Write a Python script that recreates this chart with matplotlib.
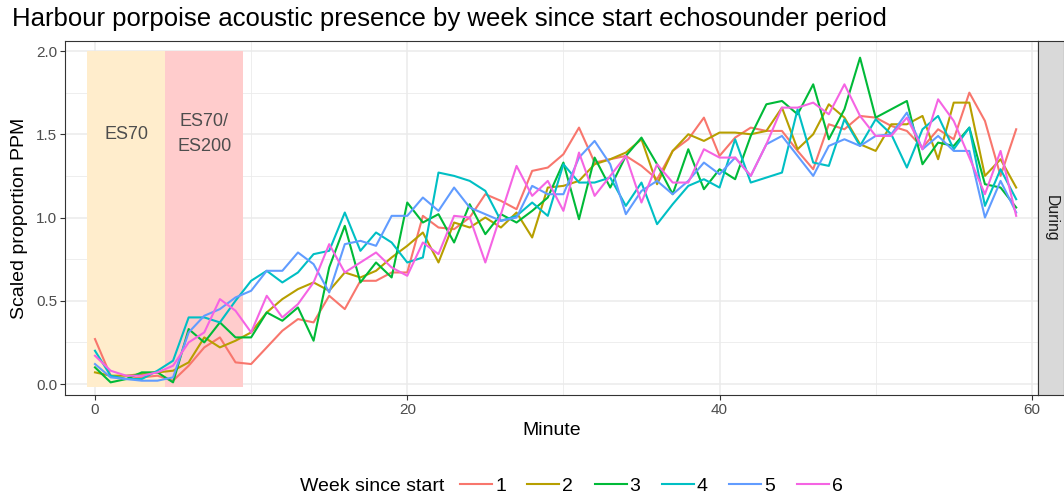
import matplotlib
matplotlib.use("Agg")
import matplotlib.pyplot as plt
from matplotlib.lines import Line2D
from matplotlib.ticker import MultipleLocator, FormatStrFormatter
import numpy as np

plt.rcParams["font.family"] = ["Liberation Sans", "DejaVu Sans"]

# ---- data: scaled proportion of porpoise-positive minutes, per week ---------
minutes = np.arange(60)
weeks = ["1", "2", "3", "4", "5", "6"]
week_colors = ["#F8766D", "#B79F00", "#00BA38", "#00BFC4", "#619CFF", "#F564E3"]

week1 = [0.27, 0.05, 0.03, 0.04, 0.05, 0.02, 0.11, 0.22, 0.28, 0.13,
         0.12, 0.22, 0.32, 0.39, 0.37, 0.53, 0.45, 0.62, 0.62, 0.67,
         0.67, 1.01, 0.94, 0.93, 1.00, 1.14, 1.10, 1.05, 1.28, 1.30,
         1.38, 1.54, 1.33, 1.35, 1.37, 1.31, 1.23, 1.40, 1.47, 1.60,
         1.37, 1.48, 1.54, 1.52, 1.52, 1.40, 1.29, 1.56, 1.53, 1.61,
         1.60, 1.55, 1.52, 1.42, 1.53, 1.47, 1.75, 1.58, 1.25, 1.53]
week2 = [0.07, 0.05, 0.05, 0.06, 0.07, 0.08, 0.13, 0.28, 0.22, 0.26,
         0.31, 0.43, 0.51, 0.57, 0.61, 0.56, 0.67, 0.64, 0.68, 0.76,
         0.83, 0.91, 0.73, 0.97, 0.94, 1.00, 0.94, 1.03, 0.88, 1.18,
         1.19, 1.22, 1.32, 1.35, 1.39, 1.47, 1.20, 1.40, 1.50, 1.46,
         1.51, 1.51, 1.50, 1.52, 1.66, 1.41, 1.50, 1.68, 1.60, 1.44,
         1.40, 1.56, 1.56, 1.61, 1.35, 1.69, 1.69, 1.25, 1.35, 1.18]
week3 = [0.10, 0.01, 0.03, 0.07, 0.07, 0.01, 0.33, 0.25, 0.37, 0.28,
         0.28, 0.43, 0.38, 0.46, 0.26, 0.70, 0.95, 0.61, 0.73, 0.64,
         1.09, 0.97, 1.02, 0.85, 1.08, 0.90, 1.02, 0.97, 1.04, 1.12,
         1.33, 0.99, 1.36, 1.18, 1.37, 1.48, 1.32, 1.14, 1.41, 1.17,
         1.29, 1.23, 1.49, 1.68, 1.70, 1.62, 1.80, 1.47, 1.65, 1.96,
         1.60, 1.65, 1.70, 1.32, 1.45, 1.43, 1.54, 1.20, 1.18, 1.06]
week4 = [0.20, 0.05, 0.03, 0.03, 0.08, 0.14, 0.40, 0.40, 0.37, 0.50,
         0.62, 0.68, 0.61, 0.67, 0.78, 0.80, 1.03, 0.80, 0.91, 0.85,
         0.73, 0.76, 1.27, 1.25, 1.22, 1.16, 0.98, 1.01, 1.09, 1.01,
         1.32, 1.21, 1.21, 1.24, 1.07, 1.21, 0.96, 1.08, 1.19, 1.23,
         1.18, 1.47, 1.21, 1.24, 1.27, 1.65, 1.33, 1.31, 1.59, 1.43,
         1.59, 1.50, 1.30, 1.53, 1.61, 1.41, 1.54, 1.07, 1.29, 1.11]
week5 = [0.12, 0.04, 0.03, 0.02, 0.02, 0.04, 0.31, 0.41, 0.45, 0.52,
         0.56, 0.68, 0.68, 0.79, 0.72, 0.55, 0.84, 0.86, 0.83, 1.01,
         1.01, 1.12, 1.04, 1.18, 1.06, 1.02, 0.98, 1.00, 1.19, 1.14,
         1.14, 1.36, 1.46, 1.32, 1.02, 1.16, 1.22, 1.14, 1.22, 1.33,
         1.26, 1.36, 1.25, 1.44, 1.49, 1.37, 1.25, 1.43, 1.47, 1.43,
         1.49, 1.50, 1.63, 1.41, 1.49, 1.40, 1.40, 1.00, 1.22, 1.03]
week6 = [0.17, 0.08, 0.05, 0.05, 0.07, 0.11, 0.25, 0.31, 0.51, 0.44,
         0.31, 0.53, 0.40, 0.48, 0.61, 0.84, 0.67, 0.73, 0.79, 0.70,
         0.65, 0.85, 0.78, 1.01, 1.00, 0.73, 1.02, 1.31, 1.13, 1.22,
         1.04, 1.39, 1.13, 1.25, 1.37, 1.09, 1.32, 1.21, 1.21, 1.41,
         1.36, 1.36, 1.25, 1.44, 1.66, 1.66, 1.69, 1.62, 1.80, 1.61,
         1.49, 1.49, 1.60, 1.41, 1.71, 1.58, 1.36, 1.14, 1.40, 1.01]
series = [week1, week2, week3, week4, week5, week6]

# echosounder periods (minute ranges) and their labels
periods = [(-0.5, 4.5), (4.5, 9.5)]
period_labels = ["ES70", "ES70/\nES200"]
period_fills = ["#FFEDCC", "#FFCCCC"]
period_ymin, period_ymax = -0.02, 2.0

GREY30 = "#4D4D4D"
GREY20 = "#333333"
GRID = "#EBEBEB"

fig = plt.figure(figsize=(10.64, 4.96), dpi=100)
ax = fig.add_axes([0.0611, 0.2036, 0.9145, 0.7137])

for (x0, x1), lab, fc in zip(periods, period_labels, period_fills):
    ax.fill_between([x0, x1], period_ymin, period_ymax, color=fc, lw=0, zorder=1)
    ax.text((x0 + x1) / 2, 1.5, lab, ha="center", va="center",
            fontsize=13, color=GREY30, linespacing=1.6, zorder=3)

for vals, col, wk in zip(series, week_colors, weeks):
    ax.plot(minutes, vals, color=col, lw=1.5, label=wk, zorder=2)

ax.set_xlim(-1.92, 60.4)
ax.set_ylim(-0.066, 2.06)
ax.xaxis.set_major_locator(MultipleLocator(20))
ax.xaxis.set_minor_locator(MultipleLocator(10))
ax.yaxis.set_major_locator(MultipleLocator(0.5))
ax.yaxis.set_minor_locator(MultipleLocator(0.25))
ax.yaxis.set_major_formatter(FormatStrFormatter("%.1f"))
ax.grid(which="major", color=GRID, lw=1.1, zorder=0)
ax.grid(which="minor", color=GRID, lw=0.6, zorder=0)
ax.set_axisbelow(True)
ax.tick_params(which="major", length=3.5, width=0.8, color=GREY20,
               labelsize=11, labelcolor=GREY30, pad=2)
ax.tick_params(which="minor", length=0)
for sp in ax.spines.values():
    sp.set_color(GREY20)
    sp.set_linewidth(0.8)

ax.set_xlabel("Minute", fontsize=14, labelpad=4)
ax.set_ylabel("Scaled proportion PPM", fontsize=14, labelpad=6)

# facet strip on the right
strip = fig.add_axes([0.9756, 0.2036, 0.0244, 0.7137])
strip.set_facecolor("#D9D9D9")
strip.set_xticks([])
strip.set_yticks([])
for sp in strip.spines.values():
    sp.set_color(GREY20)
    sp.set_linewidth(0.8)
strip.text(0.5, 0.5, "During", rotation=-90, ha="center", va="center",
           fontsize=11.3, color="#1A1A1A", transform=strip.transAxes)

fig.text(0.011, 0.962, "Harbour porpoise acoustic presence by week since start echosounder period",
         fontsize=18.5, ha="left", va="center")

# legend along the bottom, title inline
fig.text(0.282, 0.02, "Week since start", fontsize=14, ha="left", va="center")
handles = [Line2D([], [], color=c, lw=1.5) for c in week_colors]
fig.legend(handles, weeks, loc="center left", bbox_to_anchor=(0.416, 0.02),
           ncol=6, frameon=False, fontsize=14, handlelength=1.65,
           handletextpad=0.15, columnspacing=1.1)

fig.savefig("out.png", dpi=100)
